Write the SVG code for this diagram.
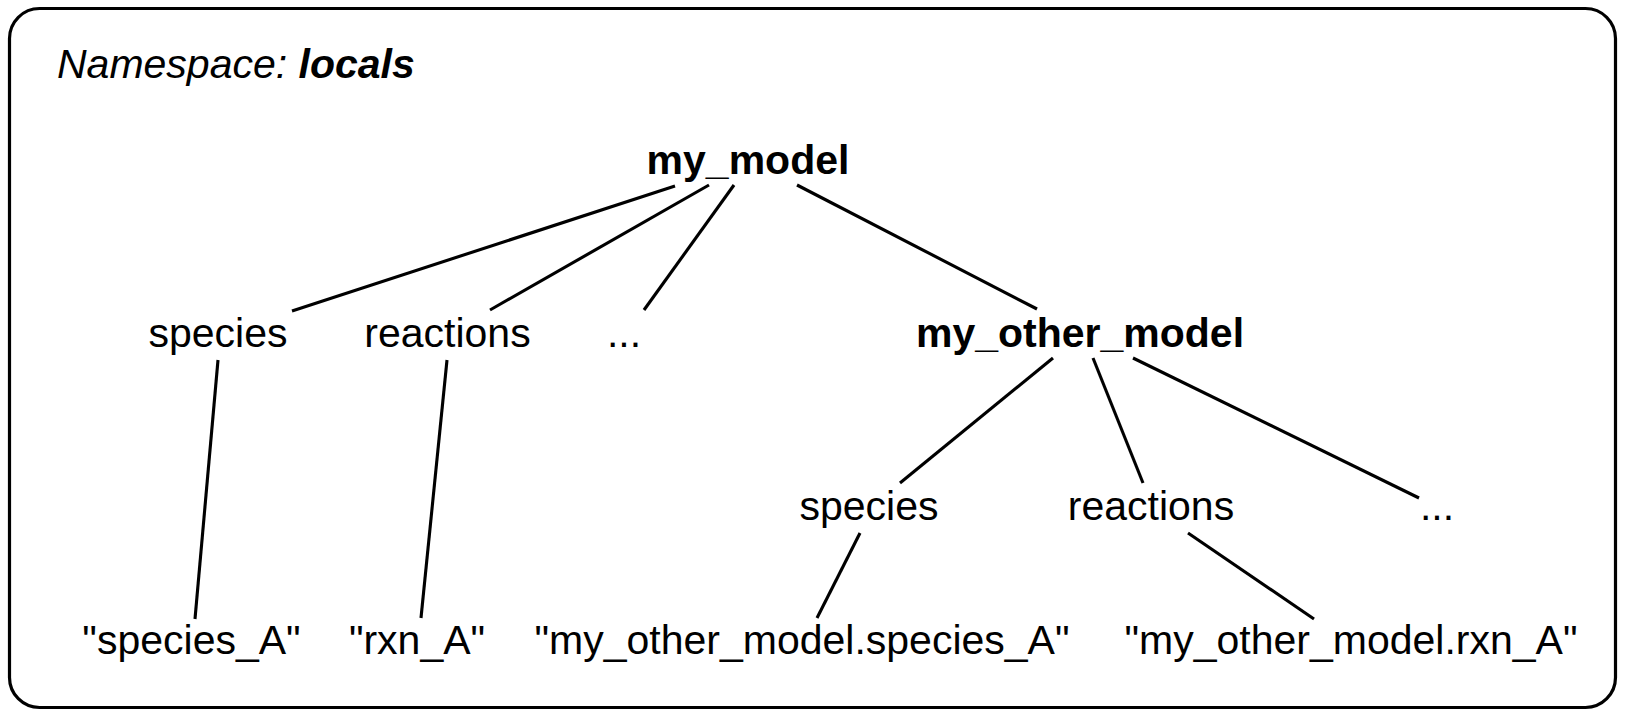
<svg xmlns="http://www.w3.org/2000/svg" width="1625" height="715" viewBox="0 0 1625 715">
<style>
text{font-family:"Liberation Sans",Arial,Helvetica,sans-serif;font-size:41px;fill:#000}
.b{font-weight:bold}
.c{text-anchor:middle}
.e{stroke:#000;stroke-width:3.1;stroke-linecap:butt;fill:none}
</style>
<rect id="frame" x="9.5" y="8.5" width="1606" height="699" rx="30" ry="30" fill="#fff" stroke="#000" stroke-width="3.2"/>
<g id="title"><text x="57" y="77.5" font-style="italic">Namespace: <tspan class="b">locals</tspan></text></g>
<g id="connectors">
<line class="e" x1="675" y1="186" x2="292" y2="311"/>
<line class="e" x1="709" y1="185" x2="490" y2="310"/>
<line class="e" x1="734" y1="185" x2="644" y2="310"/>
<line class="e" x1="797" y1="185" x2="1037" y2="309"/>
<line class="e" x1="218" y1="360" x2="195" y2="619"/>
<line class="e" x1="447" y1="360" x2="421" y2="618"/>
<line class="e" x1="1053" y1="358" x2="900" y2="483"/>
<line class="e" x1="1093" y1="358" x2="1143" y2="483"/>
<line class="e" x1="1133" y1="358" x2="1419" y2="498"/>
<line class="e" x1="860" y1="533" x2="817" y2="618"/>
<line class="e" x1="1188" y1="533" x2="1314" y2="619"/>
</g>
<g id="my_model"><text class="b c" x="748" y="173.5">my_model</text></g>
<g id="species1"><text class="c" x="218" y="347">species</text></g>
<g id="reactions1"><text class="c" x="447.5" y="347">reactions</text></g>
<g id="more1"><text class="c" x="624" y="347">...</text></g>
<g id="my_other_model"><text class="b c" x="1080" y="347">my_other_model</text></g>
<g id="species2"><text class="c" x="869" y="520">species</text></g>
<g id="reactions2"><text class="c" x="1151" y="520">reactions</text></g>
<g id="more2"><text class="c" x="1437" y="520">...</text></g>
<g id="species_A"><text class="c" x="191.5" y="654">"species_A"</text></g>
<g id="rxn_A"><text class="c" x="417" y="654">"rxn_A"</text></g>
<g id="other_species_A"><text class="c" x="802" y="654">"my_other_model.species_A"</text></g>
<g id="other_rxn_A"><text class="c" x="1351" y="654">"my_other_model.rxn_A"</text></g>
</svg>
